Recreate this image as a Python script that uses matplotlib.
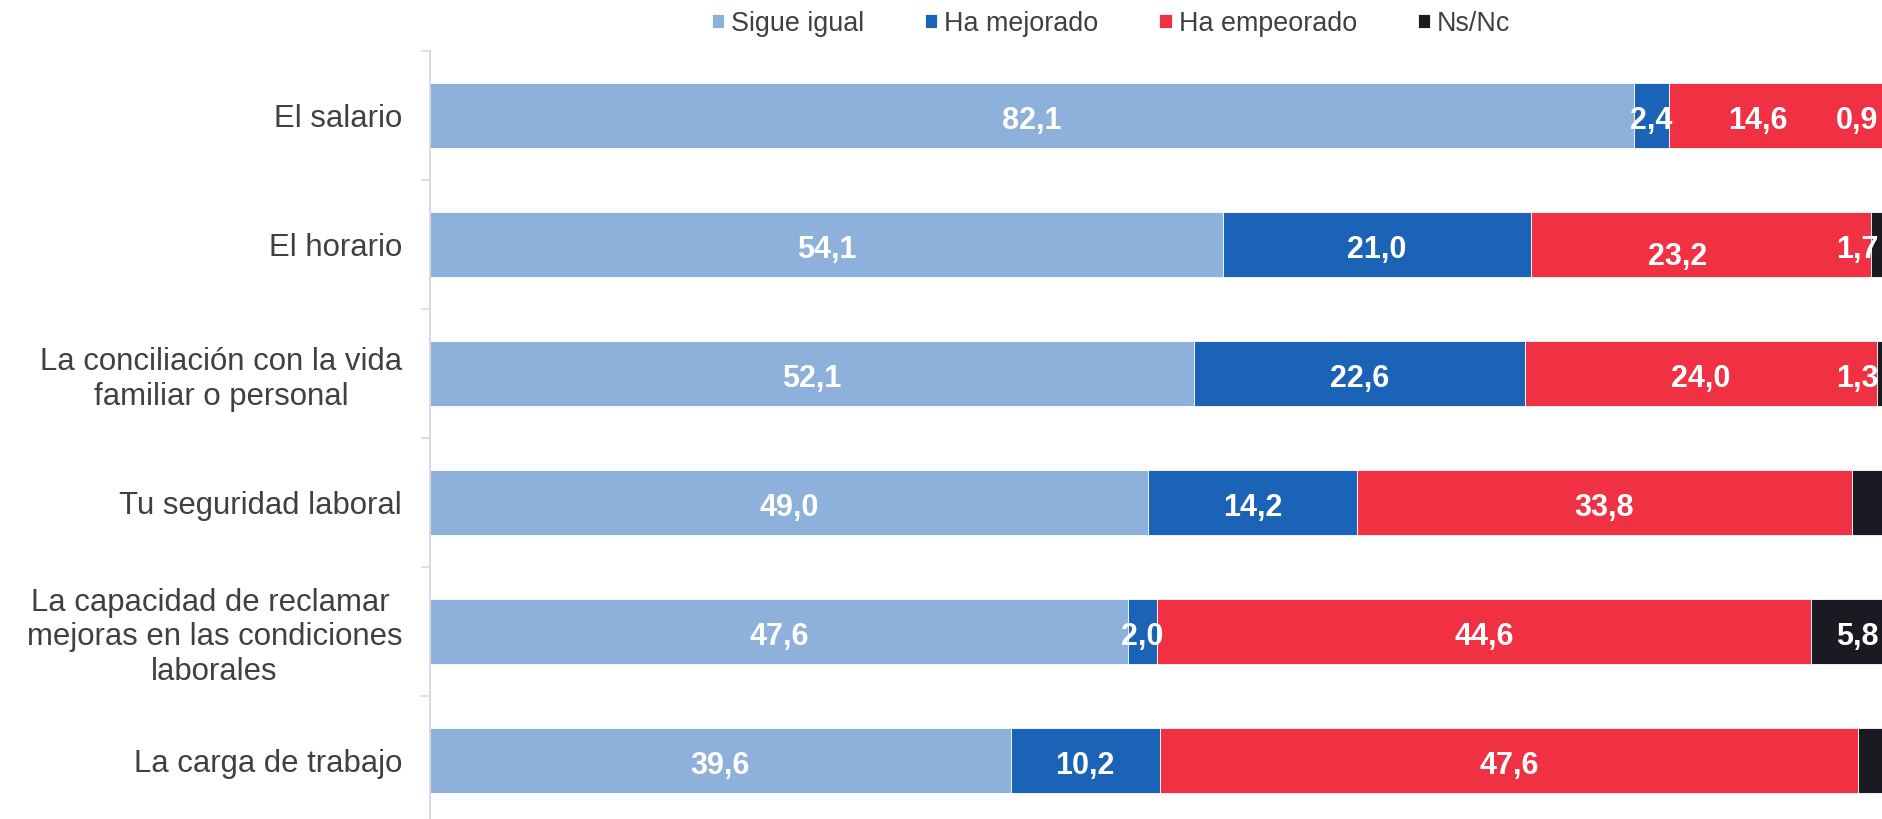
import numpy as np
import matplotlib
matplotlib.use("Agg")
import matplotlib.pyplot as plt

plt.rcParams['font.family'] = ['Liberation Sans', 'DejaVu Sans']

categorias = [
	"El salario",
	"El horario",
	"La conciliación con la vida\nfamiliar o personal",
	"Tu seguridad laboral",
	"La capacidad de reclamar \nmejoras en las condiciones\nlaborales",
	"La carga de trabajo",
]

series = ["Sigue igual", "Ha mejorado", "Ha empeorado", "Ns/Nc"]
sigue_igual = [82.1, 54.1, 52.1, 49.0, 47.6, 39.6]
ha_mejorado = [2.4, 21.0, 22.6, 14.2, 2.0, 10.2]
ha_empeorado = [14.6, 23.2, 24.0, 33.8, 44.6, 47.6]
ns_nc = [0.9, 1.7, 1.3, 3.0, 5.8, 2.6]

# etiquetas visibles del grafico original (las vacias no se muestran)
etiquetas_ns = ["0,9", "1,7", "1,3", "", "5,8", ""]

colores = ["#8EB1DB", "#1B63B6", "#F03043", "#1A1A22"]

fig = plt.figure(figsize=(18.83, 8.19), dpi=100)
# el area de trazado se sale un poco del lienzo por la derecha y por abajo
ax = fig.add_axes([430 / 1883, -6 / 819, 1466 / 1883, 774 / 819])

y = np.arange(len(categorias))
valores = [sigue_igual, ha_mejorado, ha_empeorado, ns_nc]
izq = np.zeros(len(categorias))

for k in range(len(series)):
	v = np.array(valores[k])
	ax.barh(y, v, left=izq, height=0.5, color=colores[k], label=series[k],
		edgecolor="white", linewidth=0.6)
	for i in range(len(categorias)):
		centro = izq[i] + v[i] / 2
		dy = 0.04
		ha = "center"
		txt = ("%.1f" % v[i]).replace(".", ",")
		if k == 3:
			txt = etiquetas_ns[i]
			centro = 98.8
			ha = "right"
		if k == 2 and i == 0:
			centro -= 1.2
		if k == 2 and i == 1:
			centro -= 1.6
			dy += 0.055
		if txt:
			ax.text(centro, y[i] + dy, txt, ha=ha, va="center", color="white",
				fontsize=22, fontweight="bold")
	izq += v

ax.set_xlim(0, 100)
ax.set_ylim(5.5, -0.5)
ax.set_yticks(y)
ax.set_yticklabels(categorias, fontsize=22.4, color="#404040", ma="center")
ax.set_yticks(np.arange(-0.5, 6, 1), minor=True)
ax.tick_params(axis="y", which="major", length=0, pad=20)
ax.tick_params(axis="y", which="minor", length=6.5, width=1.2, color="#D9D9D9")
ax.set_xticks([])

for s in ["top", "right", "bottom"]:
	ax.spines[s].set_visible(False)
ax.spines["left"].set_color("#D9D9E3")
ax.spines["left"].set_linewidth(1.4)

fig.legend(loc="center", bbox_to_anchor=(0.59, 0.971), ncol=4, frameon=False,
	fontsize=19.4, labelcolor="#404040", handlelength=0.45, handleheight=0.45,
	handletextpad=0.26, columnspacing=2.27, borderaxespad=0, borderpad=0)

plt.savefig("out.png", dpi=100)
